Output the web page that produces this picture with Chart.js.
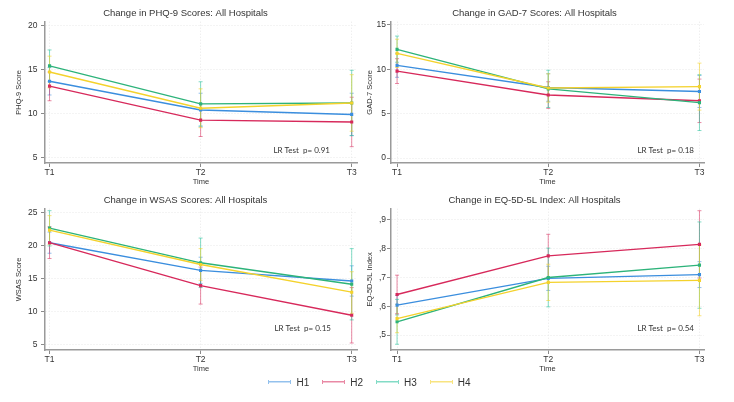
<!DOCTYPE html>
<html>
<head>
<meta charset="utf-8">
<script src="https://cdn.jsdelivr.net/npm/chart.js@4.4.1/dist/chart.umd.min.js"></script>
<style>
  html, body { margin: 0; padding: 0; background: #fff; }
  #wrap { position: relative; width: 734px; height: 402px; overflow: hidden; }
  #wrap canvas { position: absolute; }
  #legend {
    position: absolute; left: 3px; top: 374px; width: 734px; height: 16px;
    display: flex; justify-content: center; align-items: center;
    font-family: "Liberation Sans", Arial, sans-serif; font-size: 10px; color: #333;
  }
  .item { display: flex; align-items: center; margin: 0 7px 0 6px; }
  .swatch { width: 23px; height: 4px; box-sizing: border-box; margin-right: 5px; }
</style>
</head>
<body>
<div id="wrap">
  <canvas id="c1" width="367" height="190"></canvas>
  <canvas id="c2" width="372" height="190"></canvas>
  <canvas id="c3" width="367" height="190"></canvas>
  <canvas id="c4" width="372" height="190"></canvas>
  <div id="legend"></div>
</div>
<script>
// ── Data (rows = hospitals H1..H4, columns = T1, T2, T3) ─────────────────────
const timeLabels = ['T1', 'T2', 'T3'];
const hospitals  = ['H1', 'H2', 'H3', 'H4'];

const phqMean = [[13.65, 10.4, 9.9], [13.1, 9.25, 9.05], [15.4, 11.1, 11.2], [14.7, 10.6, 11.2]];
const phqLo   = [[12.1, 8.5, 7.5],   [11.45, 7.4, 6.25], [13.6, 8.6, 7.5],   [12.9, 8.4, 8.0]];
const phqHi   = [[15.2, 12.3, 12.3], [14.7, 11.1, 11.85], [17.2, 13.6, 14.9], [16.5, 12.8, 14.4]];

const gadMean = [[10.45, 7.95, 7.5], [9.8, 7.1, 6.45], [12.25, 7.8, 6.25], [11.8, 7.9, 8.05]];
const gadLo   = [[9.1, 6.4, 5.7],    [8.4, 5.6, 4.0],   [10.8, 5.7, 3.1],   [10.2, 6.3, 5.4]];
const gadHi   = [[11.8, 9.5, 9.3],   [11.2, 8.6, 8.9],  [13.75, 9.9, 9.4],  [13.4, 9.5, 10.7]];

const wsasMean = [[20.5, 16.3, 14.7], [20.5, 14.0, 9.5], [22.7, 17.45, 14.2], [22.4, 17.2, 13.0]];
const wsasLo   = [[18.9, 14.3, 12.4], [18.1, 11.2, 5.3], [20.0, 13.7, 8.8],   [20.2, 14.8, 9.8]];
const wsasHi   = [[22.1, 18.3, 17.0], [22.9, 16.8, 13.7], [25.35, 21.2, 19.6], [24.6, 19.6, 16.1]];

const eqMean = [[0.604, 0.697, 0.71], [0.641, 0.775, 0.815], [0.546, 0.70, 0.743], [0.557, 0.683, 0.69]];
const eqLo   = [[0.57, 0.655, 0.665], [0.574, 0.70, 0.698],  [0.468, 0.598, 0.593], [0.508, 0.62, 0.567]];
const eqHi   = [[0.638, 0.739, 0.755], [0.708, 0.85, 0.932], [0.624, 0.802, 0.893], [0.606, 0.746, 0.813]];

const phqTicks  = [5, 10, 15, 20];
const gadTicks  = [0, 5, 10, 15];
const wsasTicks = [5, 10, 15, 20, 25];
const eqTicks   = [0.5, 0.6, 0.7, 0.8, 0.9];
const eqTickLabels = [',5', ',6', ',7', ',8', ',9'];

const lrTexts = ['LR Test  p= 0.91', 'LR Test  p= 0.18', 'LR Test  p= 0.15', 'LR Test  p= 0.54'];

// ── Styles ───────────────────────────────────────────────────────────────────
const lineColors = ['#3b8ede', '#d7295b', '#2db37a', '#f4d22c'];
const barColors  = ['rgba(59,142,222,0.55)', 'rgba(215,41,91,0.55)', 'rgba(48,196,160,0.6)', 'rgba(244,210,44,0.6)'];
const FONT = '"Liberation Sans", Arial, sans-serif';

// ── Error bars + LR text plugin ──────────────────────────────────────────────
const errorBars = {
  id: 'errorBars',
  beforeDatasetsDraw(chart) {
    const { ctx, scales: { x, y } } = chart;
    ctx.save();
    ctx.lineWidth = 1;
    chart.data.datasets.forEach(ds => {
      ctx.strokeStyle = barColors[ds.hIndex];
      ds.data.forEach(p => {
        const px = x.getPixelForValue(p.x);
        const top = y.getPixelForValue(p.hi);
        const bot = y.getPixelForValue(p.lo);
        ctx.beginPath();
        ctx.moveTo(px, top); ctx.lineTo(px, bot);
        ctx.moveTo(px - 2, top); ctx.lineTo(px + 2, top);
        ctx.moveTo(px - 2, bot); ctx.lineTo(px + 2, bot);
        ctx.stroke();
      });
    });
    ctx.restore();
  },
  afterDraw(chart, args, opts) {
    const { ctx, chartArea } = chart;
    ctx.save();
    ctx.font = '8px Lato, "Open Sans", sans-serif';
    ctx.fillStyle = '#333';
    ctx.textAlign = 'right';
    ctx.textBaseline = 'middle';
    ctx.fillText(opts.text, chartArea.right - opts.dx, chartArea.bottom - opts.dy);
    ctx.restore();
  }
};

function buildDatasets(mean, lo, hi) {
  return hospitals.map((h, i) => ({
    label: h,
    hIndex: i,
    order: 3 - i,
    data: timeLabels.map((t, j) => ({ x: j, y: mean[i][j], lo: lo[i][j], hi: hi[i][j] })),
    borderColor: lineColors[i],
    backgroundColor: lineColors[i],
    borderWidth: 1.4,
    pointStyle: 'rect',
    pointRadius: 2.2,
    pointBorderWidth: 0,
    tension: 0
  }));
}

function makeChart(p) {
  const gridStyle = { color: '#e8e8e8', tickColor: '#8a8a8a', tickLength: 4, tickWidth: 1 };
  const borderStyle = { color: '#9a9a9a', width: 1.5, dash: [1, 2] };
  const tickFont = { family: FONT, size: 8.5 };
  const titleFont = { family: FONT, size: 7.5 };
  return new Chart(document.getElementById(p.id), {
    type: 'line',
    data: { datasets: buildDatasets(p.mean, p.lo, p.hi) },
    plugins: [errorBars],
    options: {
      responsive: false,
      animation: false,
      devicePixelRatio: 1,
      layout: { padding: { left: p.padL, right: p.padR, top: 0, bottom: 3.6 } },
      plugins: {
        legend: { display: false },
        tooltip: { enabled: false },
        title: {
          display: true, text: p.title, color: '#333',
          font: { family: FONT, size: 9.5, weight: 'normal' },
          padding: { top: 8, bottom: 2.3 }
        },
        errorBars: { text: p.lr, dx: p.lrDx, dy: p.lrDy }
      },
      scales: {
        x: {
          type: 'linear', min: p.xMin, max: p.xMax,
          afterBuildTicks: s => { s.ticks = timeLabels.map((t, j) => ({ value: j })); },
          afterFit: s => { s.height = 23.4; },
          ticks: { color: '#333', font: tickFont, padding: 1, autoSkip: false, maxRotation: 0,
                   callback: v => timeLabels[v] },
          grid: gridStyle, border: borderStyle,
          title: { display: true, text: 'Time', color: '#333', font: titleFont, padding: 0 }
        },
        y: {
          min: p.yMin, max: p.yMax,
          afterBuildTicks: s => { s.ticks = p.ticks.map(v => ({ value: v })); },
          afterFit: s => { s.width = p.yW; },
          ticks: { color: '#333', font: tickFont, padding: p.tickPad, autoSkip: false,
                   callback: (v, i) => p.tickLabels ? p.tickLabels[i] : v },
          grid: gridStyle, border: borderStyle,
          title: { display: true, text: p.yTitle, color: '#333', font: titleFont, padding: 0 }
        }
      }
    }
  });
}

const panels = [
  { id: 'c1', left: 0, top: 0, title: 'Change in PHQ-9 Scores: All Hospitals', yTitle: 'PHQ-9 Score',
    mean: phqMean, lo: phqLo, hi: phqHi, ticks: phqTicks, tickLabels: null,
    yMin: 4.4, yMax: 20.4, xMin: -0.03, xMax: 2.035, padL: 14, padR: 10, yW: 31, tickPad: 3.5,
    lr: lrTexts[0], lrDx: 27, lrDy: 13 },
  { id: 'c2', left: 362, top: 0, title: 'Change in GAD-7 Scores: All Hospitals', yTitle: 'GAD-7 Score',
    mean: gadMean, lo: gadLo, hi: gadHi, ticks: gadTicks, tickLabels: null,
    yMin: -0.56, yMax: 15.37, xMin: -0.04, xMax: 2.03, padL: 3, padR: 30, yW: 26, tickPad: 1,
    lr: lrTexts[1], lrDx: 10, lrDy: 13 },
  { id: 'c3', left: 0, top: 187, title: 'Change in WSAS Scores: All Hospitals', yTitle: 'WSAS Score',
    mean: wsasMean, lo: wsasLo, hi: wsasHi, ticks: wsasTicks, tickLabels: null,
    yMin: 4.24, yMax: 25.65, xMin: -0.03, xMax: 2.035, padL: 14, padR: 10, yW: 31, tickPad: 3.5,
    lr: lrTexts[2], lrDx: 26, lrDy: 22 },
  { id: 'c4', left: 362, top: 187, title: 'Change in EQ-5D-5L Index: All Hospitals', yTitle: 'EQ-5D-5L Index',
    mean: eqMean, lo: eqLo, hi: eqHi, ticks: eqTicks, tickLabels: eqTickLabels,
    yMin: 0.448, yMax: 0.939, xMin: -0.04, xMax: 2.03, padL: 3, padR: 30, yW: 26, tickPad: 1,
    lr: lrTexts[3], lrDx: 10, lrDy: 22 }
];

panels.forEach(p => {
  const c = document.getElementById(p.id);
  c.style.left = p.left + 'px';
  c.style.top = p.top + 'px';
  makeChart(p);
});

// ── Shared legend ────────────────────────────────────────────────────────────
const legend = document.getElementById('legend');
hospitals.forEach((h, i) => {
  const item = document.createElement('div');
  item.className = 'item';
  const sw = document.createElement('div');
  sw.className = 'swatch';
  sw.style.borderLeft = '1px solid ' + barColors[i];
  sw.style.borderRight = '1px solid ' + barColors[i];
  sw.style.background = 'linear-gradient(' + barColors[i] + ',' + barColors[i] + ') center / 100% 1.5px no-repeat';
  const lab = document.createElement('span');
  lab.textContent = h;
  item.appendChild(sw);
  item.appendChild(lab);
  legend.appendChild(item);
});
</script>
</body>
</html>
